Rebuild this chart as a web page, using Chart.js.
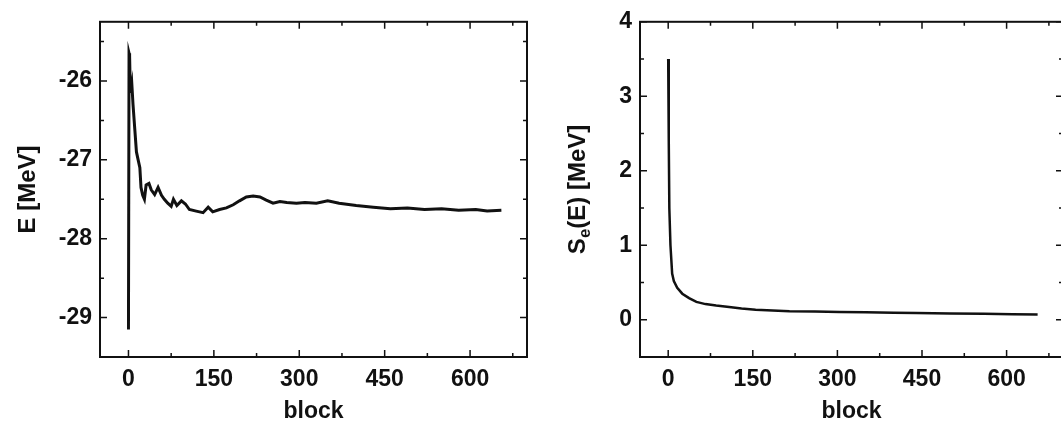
<!DOCTYPE html>
<html>
<head>
<meta charset="utf-8">
<script src="https://cdn.jsdelivr.net/npm/chart.js@4"></script>
<style>
  html, body { margin: 0; padding: 0; background: #fff; overflow: hidden; }
  #wrap { position: relative; width: 1061px; height: 427px; overflow: hidden; }
  canvas { position: absolute; top: 0; }
  #chartE { left: 0; }
  #chartS { left: 540px; }
</style>
</head>
<body>
<div id="wrap">
  <canvas id="chartE" width="540" height="427"></canvas>
  <canvas id="chartS" width="540" height="427"></canvas>
</div>
<script>
// Data
var eBlocks = [0, 1, 2, 3, 4, 6, 8, 11, 14, 17, 20, 22, 25, 28, 31, 36, 40, 46, 52, 58, 63, 69, 75, 79, 85, 93, 100, 107, 119, 131, 140, 148, 160, 172, 184, 195, 207, 219, 231, 242, 254, 266, 278, 295, 310, 330, 350, 370, 400, 430, 460, 490, 520, 550, 580, 610, 630, 655];
var eValues = [-29.15, -25.65, -25.68, -26.05, -26.15, -26.05, -26.3, -26.6, -26.9, -27.0, -27.1, -27.35, -27.45, -27.5, -27.32, -27.3, -27.38, -27.44, -27.35, -27.45, -27.5, -27.55, -27.59, -27.5, -27.58, -27.52, -27.56, -27.63, -27.65, -27.67, -27.6, -27.66, -27.63, -27.61, -27.57, -27.52, -27.47, -27.46, -27.47, -27.51, -27.55, -27.53, -27.54, -27.55, -27.54, -27.55, -27.52, -27.55, -27.58, -27.6, -27.62, -27.61, -27.63, -27.62, -27.64, -27.63, -27.65, -27.64];

var sBlocks = [0, 1, 2, 4, 7, 10, 16, 25, 37, 50, 66, 85, 108, 130, 155, 185, 215, 260, 304, 350, 400, 440, 500, 560, 610, 655];
var sValues = [3.5, 2.4, 1.5, 1.0, 0.62, 0.52, 0.43, 0.35, 0.29, 0.24, 0.21, 0.19, 0.17, 0.15, 0.135, 0.125, 0.115, 0.11, 0.105, 0.1, 0.095, 0.09, 0.085, 0.08, 0.075, 0.072];

// Tick labels
var blockTicks = [0, 150, 300, 450, 600];
var blockMinor = [75, 225, 375, 525, 675];
var eTicks = [-29, -28, -27, -26];
var eMinor = [-28.5, -27.5, -26.5, -25.5];
var sTicks = [0, 1, 2, 3, 4];
var sMinor = [0.5, 1.5, 2.5, 3.5];

var FONT = "'Liberation Sans', Arial, sans-serif";
var INK = "#111";

// Frame with inward ticks on all four sides
var framePlugin = {
  id: "frame",
  afterDraw: function (chart, args, opts) {
    var c = chart.ctx, a = chart.chartArea;
    var xs = chart.scales.x, ys = chart.scales.y;
    c.save();
    c.strokeStyle = INK;
    c.lineWidth = 2;
    c.strokeRect(a.left, a.top, a.right - a.left, a.bottom - a.top);
    c.lineWidth = 1.5;
    function xTick(v, len) {
      var p = xs.getPixelForValue(v);
      c.beginPath();
      c.moveTo(p, a.bottom); c.lineTo(p, a.bottom - len);
      c.moveTo(p, a.top); c.lineTo(p, a.top + len);
      c.stroke();
    }
    function yTick(v, len) {
      var p = ys.getPixelForValue(v);
      c.beginPath();
      c.moveTo(a.left, p); c.lineTo(a.left + len, p);
      c.moveTo(a.right, p); c.lineTo(a.right - len, p);
      c.stroke();
    }
    blockTicks.forEach(function (v) { xTick(v, 7); });
    blockMinor.forEach(function (v) { xTick(v, 4); });
    opts.major.forEach(function (v) { yTick(v, 7); });
    opts.minor.forEach(function (v) { yTick(v, 4); });

    // y title with subscript, drawn by hand
    if (opts.subTitle) {
      var cx = ys.left + 38, cy = (a.top + a.bottom) / 2;
      c.translate(cx, cy);
      c.rotate(-Math.PI / 2);
      c.fillStyle = INK;
      c.textBaseline = "middle";
      var big = "bold 24px " + FONT, small = "bold 17px " + FONT;
      c.font = big;
      var w1 = c.measureText("S").width;
      var w3 = c.measureText("(E) [MeV]").width;
      c.font = small;
      var w2 = c.measureText("e").width;
      var x0 = -(w1 + w2 + w3) / 2;
      c.font = big;
      c.textAlign = "left";
      c.fillText("S", x0, 0);
      c.font = small;
      c.fillText("e", x0 + w1, 7);
      c.font = big;
      c.fillText("(E) [MeV]", x0 + w1 + w2, 0);
    }
    c.restore();
  }
};

function makeChart(id, xs, ys, yMin, yMax, yTicks, yMinor, yTitle, padRight, lineW) {
  var points = xs.map(function (x, i) { return { x: x, y: ys[i] }; });
  return new Chart(document.getElementById(id), {
    type: "scatter",
    data: {
      datasets: [{
        data: points,
        showLine: true,
        borderColor: INK,
        borderWidth: lineW,
        pointRadius: 0,
        tension: 0
      }]
    },
    options: {
      responsive: false,
      animation: false,
      layout: { padding: { top: 15, right: padRight, left: 0, bottom: 0 } },
      plugins: {
        legend: { display: false },
        tooltip: { enabled: false },
        frame: { major: yTicks, minor: yMinor, subTitle: !yTitle }
      },
      scales: {
        x: {
          type: "linear",
          min: -50,
          max: 700,
          afterBuildTicks: function (s) { s.ticks = blockTicks.map(function (v) { return { value: v }; }); },
          afterFit: function (s) { s.height = 70; },
          grid: { display: false, drawTicks: false },
          border: { display: false },
          ticks: { padding: 9, color: INK, font: { family: FONT, size: 23, weight: "bold" }, maxRotation: 0 },
          title: { display: true, text: "block", color: INK, padding: { top: 0, bottom: 2 }, font: { family: FONT, size: 23, weight: "bold" } }
        },
        y: {
          type: "linear",
          min: yMin,
          max: yMax,
          afterBuildTicks: function (s) { s.ticks = yTicks.map(function (v) { return { value: v }; }); },
          afterFit: function (s) { s.width = 100; },
          grid: { display: false, drawTicks: false },
          border: { display: false },
          ticks: { padding: 8, color: INK, font: { family: FONT, size: 23, weight: "bold" } },
          title: { display: !!yTitle, text: yTitle || "", color: INK, padding: { top: 14, bottom: 0 }, font: { family: FONT, size: 24, weight: "bold" } }
        }
      }
    },
    plugins: [framePlugin]
  });
}

makeChart("chartE", eBlocks, eValues, -29.5, -25.25, eTicks, eMinor, "E [MeV]", 13, 3);
makeChart("chartS", sBlocks, sValues, -0.5, 4, sTicks, sMinor, null, 17, 2.5);
</script>
</body>
</html>
